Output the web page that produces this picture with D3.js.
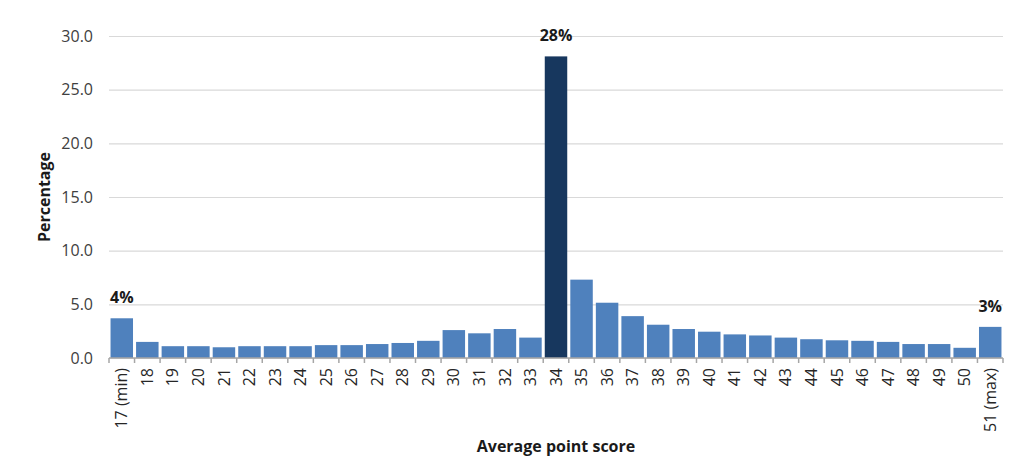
<!DOCTYPE html>
<html>
<head>
<meta charset="utf-8">
<script src="https://cdn.jsdelivr.net/npm/d3@7"></script>
<style>
  body { margin: 0; background: #fff; }
  text { font-family: "Open Sans", "Liberation Sans", sans-serif; }
</style>
</head>
<body>
<div id="chart"></div>
<script>
// average point score distribution (percent of pupils)
const scores = ["17 (min)", "18", "19", "20", "21", "22", "23", "24", "25", "26", "27", "28", "29",
  "30", "31", "32", "33", "34", "35", "36", "37", "38", "39", "40", "41", "42", "43", "44", "45",
  "46", "47", "48", "49", "50", "51 (max)"];
const percents = [3.7, 1.5, 1.1, 1.1, 1.0, 1.1, 1.1, 1.1, 1.2, 1.2, 1.3, 1.4, 1.6,
  2.6, 2.3, 2.7, 1.9, 28.1, 7.3, 5.15, 3.9, 3.1, 2.7, 2.45, 2.2, 2.1, 1.9, 1.75, 1.65,
  1.6, 1.5, 1.3, 1.3, 0.95, 2.9];
const highlight = "34";
const callouts = [["17 (min)", "4%"], ["34", "28%"], ["51 (max)", "3%"]];
const yTicks = [0, 5, 10, 15, 20, 25, 30];

const width = 1024, height = 464;
const margin = { left: 109, right: 21, top: 36, bottom: 106 };

const svg = d3.select("#chart").append("svg")
  .attr("width", width)
  .attr("height", height);

const x = d3.scaleBand()
  .domain(scores)
  .range([margin.left, width - margin.right])
  .paddingInner(0.12)
  .paddingOuter(0.06);

const y = d3.scaleLinear()
  .domain([0, 30])
  .range([height - margin.bottom, margin.top]);

// gridlines + y labels
const yAxis = svg.append("g")
  .attr("transform", `translate(${margin.left},0)`)
  .call(d3.axisLeft(y).tickValues(yTicks).tickFormat(d3.format(".1f"))
    .tickSize(-(width - margin.left - margin.right)).tickPadding(16));
yAxis.select(".domain").remove();
yAxis.selectAll(".tick line").attr("stroke", "#d9d9d9").attr("stroke-width", 1.2);
yAxis.selectAll(".tick text").attr("font-size", 16).attr("fill", "#404040");

// bars
const data = scores.map((s, i) => ({ s, v: percents[i] }));
svg.append("g").selectAll("rect")
  .data(data)
  .enter().append("rect")
  .attr("x", d => x(d.s))
  .attr("y", d => y(d.v))
  .attr("width", x.bandwidth())
  .attr("height", d => y(0) - y(d.v))
  .attr("fill", d => d.s === highlight ? "#17375e" : "#4f81bd");

// x axis with ticks on band boundaries
const xg = svg.append("g").attr("transform", `translate(0,${y(0)})`);
xg.append("line")
  .attr("x1", margin.left).attr("x2", width - margin.right)
  .attr("stroke", "#a6a6a6").attr("stroke-width", 1.5);
const step = (width - margin.left - margin.right) / scores.length;
xg.selectAll("line.tk")
  .data(d3.range(scores.length + 1))
  .enter().append("line")
  .attr("class", "tk")
  .attr("x1", i => margin.left + i * step)
  .attr("x2", i => margin.left + i * step)
  .attr("y1", 0).attr("y2", 5)
  .attr("stroke", "#a6a6a6").attr("stroke-width", 1.5);
xg.selectAll("text")
  .data(scores)
  .enter().append("text")
  .attr("transform", d => `translate(${x(d) + x.bandwidth() / 2},10) rotate(-90)`)
  .attr("text-anchor", "end")
  .attr("dy", "0.35em")
  .attr("font-size", 16)
  .attr("fill", "#262626")
  .text(d => d);

// value callouts
svg.append("g").selectAll("text")
  .data(callouts)
  .enter().append("text")
  .attr("x", d => x(d[0]) + x.bandwidth() / 2)
  .attr("y", d => y(percents[scores.indexOf(d[0])]) - 15)
  .attr("text-anchor", "middle")
  .attr("font-size", 16)
  .attr("font-weight", "bold")
  .attr("fill", "#1a1a1a")
  .text(d => d[1]);

// axis titles
svg.append("text")
  .attr("transform", `translate(50,${(margin.top + y(0)) / 2}) rotate(-90)`)
  .attr("text-anchor", "middle")
  .attr("font-size", 16)
  .attr("font-weight", "bold")
  .attr("fill", "#1a1a1a")
  .text("Percentage");

svg.append("text")
  .attr("x", (margin.left + width - margin.right) / 2)
  .attr("y", 452)
  .attr("text-anchor", "middle")
  .attr("font-size", 16)
  .attr("font-weight", "bold")
  .attr("fill", "#1a1a1a")
  .text("Average point score");
</script>
</body>
</html>
